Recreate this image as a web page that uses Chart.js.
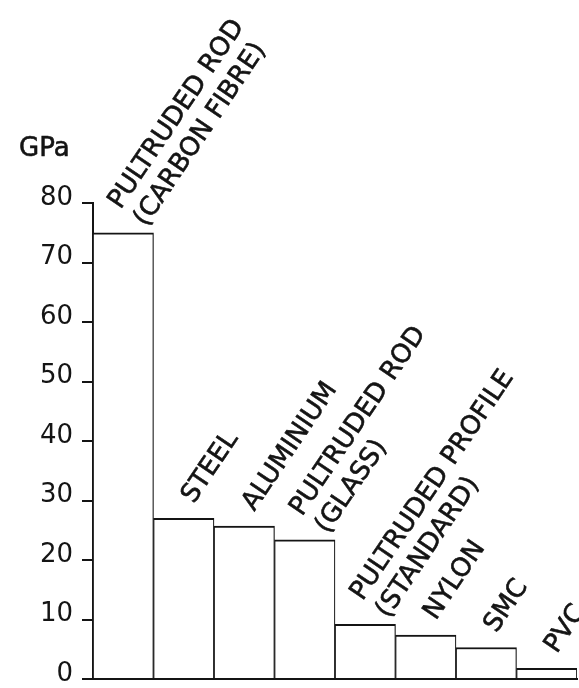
<!DOCTYPE html>
<html>
<head>
<meta charset="utf-8">
<script src="https://cdn.jsdelivr.net/npm/chart.js@4/dist/chart.umd.min.js"></script>
<style>
  html, body { margin: 0; padding: 0; background: #ffffff; }
  #wrap { width: 579px; height: 688px; position: relative; }
</style>
</head>
<body>
<div id="wrap"><canvas id="c" width="579" height="688"></canvas></div>
<script>
// ---- data ----
const categories = [
  ["PULTRUDED ROD", "(CARBON FIBRE)"],
  ["STEEL"],
  ["ALUMINIUM"],
  ["PULTRUDED ROD", "(GLASS)"],
  ["PULTRUDED PROFILE", "(STANDARD)"],
  ["NYLON"],
  ["SMC"],
  ["PVC"]
];
const modulusGPa = [75, 27, 25.7, 23.4, 9.2, 7.4, 5.3, 1.8];
const yTicks = [0, 10, 20, 30, 40, 50, 60, 70, 80];
const unitLabel = "GPa";

const INK = "#141414";
const FONT = "DejaVu Sans";

const barLabels = {
  id: "barLabels",
  afterDatasetsDraw(chart) {
    const ctx = chart.ctx;
    const meta = chart.getDatasetMeta(0);
    const ang = -56 * Math.PI / 180;
    const lh = 31;
    ctx.save();
    ctx.fillStyle = INK;
    ctx.strokeStyle = INK;
    ctx.lineWidth = 0.6;
    ctx.font = "26px '" + FONT + "'";
    ctx.textAlign = "left";
    ctx.textBaseline = "alphabetic";
    meta.data.forEach((bar, i) => {
      const lines = categories[i];
      ctx.save();
      ctx.translate(bar.x + 10, bar.y - 14);
      ctx.rotate(ang);
      const n = lines.length;
      lines.forEach((ln, j) => {
        const yy = (j - (n - 1) / 2) * lh;
        ctx.fillText(ln, 0, yy);
        ctx.strokeText(ln, 0, yy);
      });
      ctx.restore();
    });
    // unit label above the y axis
    const ys = chart.scales.y;
    ctx.font = "26px '" + FONT + "'";
    const gy = ys.getPixelForValue(80) - 47;
    ctx.fillText(unitLabel, 19, gy);
    ctx.strokeText(unitLabel, 19, gy);
    ctx.restore();
  }
};

new Chart(document.getElementById("c"), {
  type: "bar",
  data: {
    labels: categories.map(c => c.join(" ")),
    datasets: [{
      data: modulusGPa,
      backgroundColor: "#ffffff",
      borderColor: INK,
      borderWidth: { top: 2, left: 1.2, right: 1.2, bottom: 0 },
      borderSkipped: "bottom",
      barPercentage: 1,
      categoryPercentage: 1
    }]
  },
  options: {
    responsive: false,
    animation: false,
    devicePixelRatio: 1,
    layout: { padding: { top: 203, bottom: 5, left: 0, right: 2 } },
    plugins: { legend: { display: false }, tooltip: { enabled: false }, title: { display: false } },
    scales: {
      x: {
        grid: { display: false, drawTicks: false },
        ticks: { display: false },
        border: { display: true, color: INK, width: 2 }
      },
      y: {
        min: 0,
        max: 80,
        afterBuildTicks: (s) => { s.ticks = yTicks.map(v => ({ value: v })); },
        afterFit: (s) => { s.width = 93; },
        grid: { drawOnChartArea: false, drawTicks: true, tickLength: 11, color: INK, lineWidth: 2 },
        border: { display: true, color: INK, width: 2 },
        ticks: {
          color: INK,
          font: { family: FONT, size: 26 },
          padding: 9,
          align: "end",
          labelOffset: 8
        }
      }
    }
  },
  plugins: [barLabels]
});
</script>
</body>
</html>
